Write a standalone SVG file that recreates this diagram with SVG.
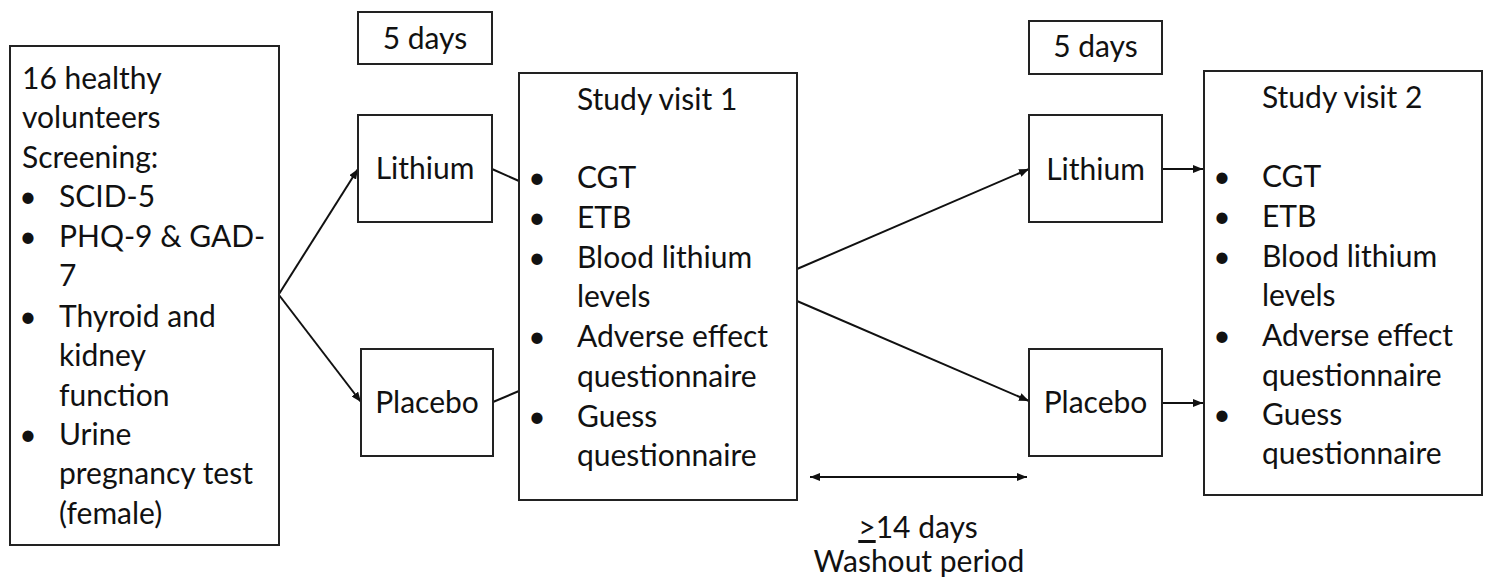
<svg xmlns="http://www.w3.org/2000/svg" width="1488" height="585" viewBox="0 0 1488 585">
<style>
.box{fill:#fff;stroke:#222;stroke-width:2}
.t{font-family:Lato,"Liberation Sans",sans-serif;font-size:30px;fill:#111}
.c{text-anchor:middle}
.b{text-anchor:middle}
.ln{stroke:#111;stroke-width:2;fill:none}
</style>
<defs>
<marker id="ah" viewBox="0 0 10 8" refX="10" refY="4" markerWidth="10" markerHeight="8" markerUnits="userSpaceOnUse" orient="auto-start-reverse">
<path d="M0,0 L10,4 L0,8 z" fill="#111"/>
</marker>
</defs>
<rect width="1488" height="585" fill="#fff"/>
<g id="connectors">
<line class="ln" x1="279" y1="294" x2="358" y2="169" marker-end="url(#ah)"/>
<line class="ln" x1="279" y1="295" x2="361" y2="402" marker-end="url(#ah)"/>
<line class="ln" x1="492" y1="169" x2="519" y2="181"/>
<line class="ln" x1="493" y1="402" x2="519" y2="391"/>
<line class="ln" x1="797" y1="269" x2="1029" y2="169" marker-end="url(#ah)"/>
<line class="ln" x1="797" y1="301" x2="1029" y2="401" marker-end="url(#ah)"/>
<line class="ln" x1="1162" y1="169" x2="1203" y2="169" marker-end="url(#ah)"/>
<line class="ln" x1="1162" y1="403" x2="1203" y2="403" marker-end="url(#ah)"/>
<line class="ln" x1="810" y1="477" x2="1027" y2="477" marker-start="url(#ah)" marker-end="url(#ah)"/>
</g>
<g id="screening">
<rect class="box" x="10" y="46" width="269" height="499"/>
<text class="t" x="22" y="89">16 healthy</text>
<text class="t" x="22" y="128">volunteers</text>
<text class="t" x="22" y="168">Screening:</text>
<text class="t b" x="28" y="207">•</text>
<text class="t" x="59" y="207">SCID-5</text>
<text class="t b" x="28" y="247">•</text>
<text class="t" x="59" y="247">PHQ-9 &amp; GAD-</text>
<text class="t" x="59" y="286">7</text>
<text class="t b" x="28" y="327">•</text>
<text class="t" x="59" y="327">Thyroid and</text>
<text class="t" x="59" y="366">kidney</text>
<text class="t" x="59" y="406">function</text>
<text class="t b" x="28" y="445">•</text>
<text class="t" x="59" y="445">Urine</text>
<text class="t" x="59" y="484">pregnancy test</text>
<text class="t" x="59" y="524">(female)</text>
</g>
<g id="days1">
<rect class="box" x="358" y="12" width="134" height="52"/>
<text class="t c" x="425" y="49">5 days</text>
</g>
<g id="lithium1">
<rect class="box" x="358" y="115" width="134" height="107"/>
<text class="t c" x="425" y="179">Lithium</text>
</g>
<g id="placebo1">
<rect class="box" x="361" y="349" width="132" height="107"/>
<text class="t c" x="427" y="413">Placebo</text>
</g>
<g id="visit1">
<rect class="box" x="519" y="73" width="278" height="427"/>
<text class="t" x="577" y="110">Study visit 1</text>
<text class="t b" x="537" y="188">•</text>
<text class="t" x="577" y="188">CGT</text>
<text class="t b" x="537" y="228">•</text>
<text class="t" x="577" y="228">ETB</text>
<text class="t b" x="537" y="268">•</text>
<text class="t" x="577" y="268">Blood lithium</text>
<text class="t" x="577" y="307">levels</text>
<text class="t b" x="537" y="347">•</text>
<text class="t" x="577" y="347">Adverse effect</text>
<text class="t" x="577" y="387">questionnaire</text>
<text class="t b" x="537" y="427">•</text>
<text class="t" x="577" y="427">Guess</text>
<text class="t" x="577" y="466">questionnaire</text>
</g>
<g id="days2">
<rect class="box" x="1029" y="21" width="133" height="53"/>
<text class="t c" x="1095.5" y="57">5 days</text>
</g>
<g id="lithium2">
<rect class="box" x="1029" y="115" width="133" height="107"/>
<text class="t c" x="1095.5" y="180">Lithium</text>
</g>
<g id="placebo2">
<rect class="box" x="1029" y="349" width="133" height="107"/>
<text class="t c" x="1095.5" y="413">Placebo</text>
</g>
<g id="visit2">
<rect class="box" x="1204" y="71" width="278" height="424"/>
<text class="t" x="1262" y="108">Study visit 2</text>
<text class="t b" x="1222" y="187">•</text>
<text class="t" x="1262" y="187">CGT</text>
<text class="t b" x="1222" y="227">•</text>
<text class="t" x="1262" y="227">ETB</text>
<text class="t b" x="1222" y="267">•</text>
<text class="t" x="1262" y="267">Blood lithium</text>
<text class="t" x="1262" y="306">levels</text>
<text class="t b" x="1222" y="346">•</text>
<text class="t" x="1262" y="346">Adverse effect</text>
<text class="t" x="1262" y="386">questionnaire</text>
<text class="t b" x="1222" y="425">•</text>
<text class="t" x="1262" y="425">Guess</text>
<text class="t" x="1262" y="464">questionnaire</text>
</g>
<g id="washout">
<text class="t c" x="918" y="538"><tspan text-decoration="underline">&gt;</tspan>14 days</text>
<text class="t c" x="919" y="572">Washout period</text>
</g>
</svg>
